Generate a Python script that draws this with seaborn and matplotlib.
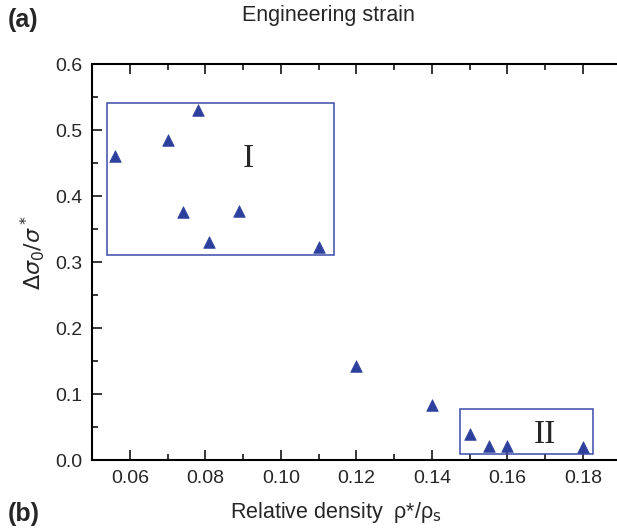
import numpy as np
import pandas as pd
import matplotlib
matplotlib.use("Agg")
import matplotlib.pyplot as plt
from matplotlib.patches import Rectangle
from matplotlib.ticker import MultipleLocator
import seaborn as sns

# data
rel_density = [0.056, 0.070, 0.078, 0.074, 0.081, 0.089, 0.110,
               0.120, 0.140, 0.150, 0.155, 0.160, 0.180]
stress_ratio = [0.461, 0.485, 0.531, 0.376, 0.331, 0.378, 0.322,
                0.143, 0.083, 0.040, 0.021, 0.021, 0.020]
x_ticks = [0.06, 0.08, 0.10, 0.12, 0.14, 0.16, 0.18]
y_ticks = [0.0, 0.1, 0.2, 0.3, 0.4, 0.5, 0.6]

df = pd.DataFrame({"rho": rel_density, "ds": stress_ratio})

sns.set_style("ticks")
plt.rcParams["font.family"] = ["Liberation Sans", "DejaVu Sans"]
plt.rcParams["mathtext.fontset"] = "dejavusans"

fig = plt.figure(figsize=(6.17, 5.29), dpi=100)
ax = fig.add_axes([0.1491, 0.1304, 0.857, 0.7486])

blue = "#2d409e"
sns.scatterplot(data=df, x="rho", y="ds", marker="^", s=70, color=blue,
                edgecolor=blue, linewidth=0.5, ax=ax, legend=False, zorder=3)

# boxes marking regions I and II
ax.add_patch(Rectangle((0.0539, 0.311), 0.0601, 0.230, fill=False,
                       edgecolor="#3a4aa8", linewidth=1.1))
ax.add_patch(Rectangle((0.1474, 0.009), 0.0352, 0.069, fill=False,
                       edgecolor="#3a4aa8", linewidth=1.1))
ax.text(0.0914, 0.457, "I", family="Liberation Serif", fontsize=24,
        ha="center", va="center")
ax.text(0.170, 0.038, "II", family="Liberation Serif", fontsize=24,
        ha="center", va="center")

ax.set_xlim(0.05, 0.19)
ax.set_ylim(0.0, 0.6)
ax.set_xticks(x_ticks)
ax.set_yticks(y_ticks)
ax.set_xticklabels([f"{v:.2f}" for v in x_ticks])
ax.set_yticklabels([f"{v:.1f}" for v in y_ticks])
ax.xaxis.set_minor_locator(MultipleLocator(0.01))
ax.yaxis.set_minor_locator(MultipleLocator(0.05))
ax.tick_params(which="both", direction="in", top=True, right=False,
               labelsize=14, width=1.1, color="black", pad=7)
ax.tick_params(which="major", length=7)
ax.tick_params(which="minor", length=4)
for side in ["left", "bottom", "top"]:
    ax.spines[side].set_linewidth(1.5)
    ax.spines[side].set_color("black")
ax.spines["right"].set_visible(False)

ax.set_xlabel("")
ax.set_ylabel(r"$\Delta\sigma_0/\sigma^*$", fontsize=16)
ax.yaxis.set_label_coords(-0.085, 0.523)

fig.text(0.532, 0.970, "Engineering strain", fontsize=15.5, ha="center", va="center")
fig.text(0.545, 0.031, "Relative density  ρ*/ρ$_\\mathrm{s}$", fontsize=15.5,
         ha="center", va="center")
fig.text(0.013, 0.962, "(a)", fontsize=18, fontweight="bold", va="center")
fig.text(0.013, 0.028, "(b)", fontsize=18, fontweight="bold", va="center")

fig.savefig("out.png", dpi=100)
